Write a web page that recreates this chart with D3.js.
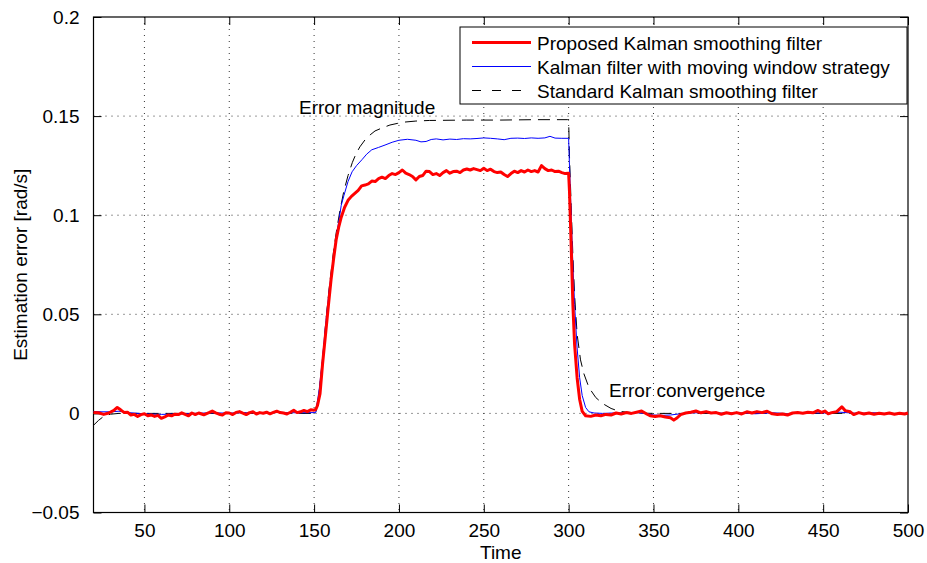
<!DOCTYPE html>
<html>
<head>
<meta charset="utf-8">
<script src="https://cdn.jsdelivr.net/npm/d3@7"></script>
<style>
  body { margin: 0; background: #fff; }
  text { font-family: "Liberation Sans", Arial, sans-serif; fill: #000; }
</style>
</head>
<body>
<div id="chart"></div>
<script>

// --- data: [time, error] ---
let proposedData = [
    [20, 0.0005], [23, 0.0003], [26, -0.0005], [29, 0.0002], [32, 0.0015], [34, 0.003], [36, 0.0018],
    [38, 0.0005], [40, 0.0006], [42, -0.0008], [44, -0.0005], [46, -0.0015], [48, -0.0006], [50, -0.0002],
    [52, -0.0012], [54, -0.0008], [56, -0.0015], [58, -0.001], [60, -0.0025], [62, -0.0018], [64, -0.0008],
    [66, -0.0012], [68, -0.0004], [70, -0.0006], [72, 0.0003], [74, -0.0005], [76, -0.0012], [78, 0.0002],
    [80, -0.0006], [82, 0.0002], [85, -0.0007], [88, 0.0004], [90, 0.0012], [92, 0.0003], [94, -0.0004],
    [96, -0.0008], [98, 0.0003], [100, 0.0002], [102, -0.0006], [104, 0.0005], [106, 0.0009], [108, 0.0001],
    [110, -0.0006], [112, 0.0004], [114, 0.0008], [116, -0.0003], [118, 0.0004], [120, 0.0001], [122, 0.0006],
    [124, -0.0002], [126, 0.0005], [128, 0.0011], [130, 0.0004], [132, 0.0002], [134, -0.0003], [136, 0.0006],
    [138, 0.0016], [140, 0.0004], [142, 0.0008], [144, 0.0015], [146, 0.0009], [148, 0.0018], [150, 0.0016],
    [151, 0.002], [152, 0.004], [153.5, 0.01], [155, 0.025], [157, 0.042], [158.5, 0.055], [160, 0.0675],
    [161.5, 0.078], [163, 0.0876], [164.5, 0.094], [166, 0.099], [168, 0.104], [170, 0.1075], [172, 0.1095],
    [174, 0.111], [176, 0.1125], [178, 0.1148], [180, 0.1152], [182, 0.1158], [184, 0.1172], [186, 0.117],
    [188, 0.1185], [190, 0.1192], [192, 0.1185], [194, 0.12], [196, 0.121], [198, 0.1205], [200, 0.1215],
    [202, 0.1228], [204, 0.1212], [206, 0.1205], [208, 0.1195], [210, 0.1178], [212, 0.1195], [214, 0.12],
    [216, 0.1222], [218, 0.122], [220, 0.1205], [222, 0.121], [224, 0.12], [226, 0.1215], [228, 0.1225],
    [230, 0.1212], [232, 0.122], [234, 0.1222], [236, 0.1215], [238, 0.1228], [240, 0.1233], [242, 0.1228],
    [244, 0.1235], [246, 0.123], [248, 0.1225], [250, 0.1237], [252, 0.1225], [254, 0.1232], [256, 0.122],
    [258, 0.1215], [260, 0.1218], [262, 0.1205], [264, 0.1195], [266, 0.121], [268, 0.1222], [270, 0.1215],
    [272, 0.1225], [274, 0.1218], [276, 0.1228], [278, 0.122], [280, 0.1225], [282, 0.1218], [284, 0.125],
    [286, 0.1235], [288, 0.1225], [290, 0.1228], [292, 0.122], [294, 0.1222], [296, 0.1215], [298, 0.121],
    [300, 0.1212], [300.5, 0.112], [301.5, 0.085], [302.5, 0.055], [303.5, 0.035], [305, 0.018],
    [306.5, 0.007], [308, 0.001], [310, -0.0012], [313, -0.0015], [316, -0.0008], [319, -0.0012],
    [322, -0.0005], [325, -0.0008], [328, 0.0002], [331, -0.0003], [334, 0.0004], [337, 0], [340, 0.0006],
    [343, 0.0012], [346, -0.0003], [348, -0.0012], [351, -0.0016], [354, -0.0012], [357, -0.0018],
    [360, -0.0022], [362, -0.0034], [364, -0.0022], [366, -0.0006], [369, 0.0002], [372, 0.0006],
    [375, 0.0012], [378, 0.0003], [381, 0.0009], [384, 0.0002], [387, 0.0004], [390, -0.0004], [393, 0.0003],
    [396, -0.0002], [399, 0.0004], [402, -0.0003], [405, 0.0008], [408, 0.0002], [411, 0.0009], [414, 0.0004],
    [417, 0.0011], [420, -0.0002], [423, -0.0006], [426, -0.0003], [429, -0.0008], [432, 0.0002], [435, 0.0004],
    [438, 0.0001], [441, 0.0006], [444, 0.0003], [447, 0.0015], [449, 0.0005], [451, 0.0012], [453, -0.0002],
    [455, 0.0004], [458, 0.0009], [461, 0.0033], [463, 0.0014], [466, 0.0008], [468, -0.0006], [471, 0.0004],
    [474, -0.0003], [477, 0.0002], [480, -0.0004], [483, 0.0001], [486, -0.0003], [489, 0.0002],
    [492, -0.0004], [495, 0.0001], [498, -0.0003], [500, 0.0002]
];

let movingWindowData = [
    [20, 0.001], [25, 0.0008], [30, 0.0008], [35, 0.0011], [40, 0.0004], [45, 0.0001], [50, -0.0002],
    [55, -0.0004], [60, -0.0005], [65, -0.0004], [70, -0.0003], [80, 0], [90, 0.0003], [100, 0.0001],
    [110, 0.0004], [120, 0.0002], [130, 0.0005], [140, 0.0003], [150, 0.0004], [151, 0.0005],
    [153, 0.012], [155, 0.028], [157, 0.047], [159, 0.063], [161.2, 0.0775], [163, 0.089], [164.7, 0.0977],
    [166, 0.105], [167.6, 0.11], [170, 0.117], [172.4, 0.1219], [175, 0.125], [178.2, 0.128], [181, 0.1308],
    [184, 0.133], [188, 0.1342], [191.8, 0.1354], [196, 0.1368], [200, 0.1378], [205, 0.1383], [210, 0.1378],
    [213, 0.137], [216, 0.1372], [219, 0.1382], [222, 0.1385], [226, 0.138], [230, 0.1384], [234, 0.1382],
    [238, 0.1386], [242, 0.1385], [246, 0.1387], [250, 0.139], [254, 0.1388], [258, 0.1385], [262, 0.1381],
    [266, 0.1388], [270, 0.1389], [274, 0.1387], [278, 0.139], [282, 0.1388], [286, 0.139], [289, 0.1398],
    [292, 0.1389], [296, 0.1388], [300, 0.1388], [300.5, 0.125], [301.5, 0.1], [302.5, 0.075],
    [303.5, 0.055], [305, 0.033], [306.5, 0.018], [308, 0.009], [310, 0.003], [312, 0.0008], [315, 0.0002],
    [320, 0], [330, 0.0003], [340, 0.0004], [345, 0], [350, -0.0008], [355, -0.001], [360, -0.0008],
    [365, -0.0003], [370, 0.0002], [380, 0.0004], [390, 0.0001], [400, 0.0003], [410, -0.0002],
    [420, 0.0003], [430, -0.0002], [440, 0.0004], [450, 0.0002], [460, 0.0006], [470, 0], [480, 0.0003],
    [490, -0.0002], [500, 0.0001]
];

let standardData = [
    [20, -0.006], [23, -0.0035], [26, -0.0015], [30, -0.0004], [35, 0], [151, 0], [153, 0.011],
    [155, 0.027], [157, 0.047], [159, 0.064], [161.2, 0.08], [163, 0.091], [165.3, 0.1027], [167.5, 0.112],
    [170, 0.12], [172.5, 0.1265], [174.7, 0.131], [177, 0.1345], [180, 0.138], [183, 0.1405], [185.9, 0.1425],
    [190, 0.144], [194.7, 0.1455], [199, 0.1463], [203.5, 0.147], [210, 0.1475], [218, 0.1478], [240, 0.148],
    [260, 0.148], [280, 0.1482], [299.5, 0.1482], [300, 0.148], [300.5, 0.13], [301.5, 0.105], [302.5, 0.08],
    [303.5, 0.06], [305, 0.04], [307, 0.027], [309, 0.02], [312, 0.013], [316, 0.008], [320, 0.005],
    [325, 0.0025], [330, 0.001], [340, 0.0002], [350, 0], [500, 0]
];

let seriesNames = ["Proposed Kalman smoothing filter", "Kalman filter with moving window strategy", "Standard Kalman smoothing filter"];
let xTicks = [50, 100, 150, 200, 250, 300, 350, 400, 450, 500];
let yTicks = [-0.05, 0, 0.05, 0.1, 0.15, 0.2];
let yTickLabels = ["\u22120.05", "0", "0.05", "0.1", "0.15", "0.2"];

// --- layout ---
let margin = {top: 17, right: 19, bottom: 50.5, left: 93.5};
let width = 927 - margin.left - margin.right;
let height = 563 - margin.top - margin.bottom;
let fontSize = "19px";

let svg = d3.select("#chart").append("svg")
    .attr("width", 927)
    .attr("height", 563)
    .append("g")
    .attr("transform", `translate(${margin.left}, ${margin.top})`);

let x = d3.scaleLinear().domain([20, 500]).range([0, width]);
let y = d3.scaleLinear().domain([-0.05, 0.2]).range([height, 0]);

// grid (dotted)
svg.append("g").selectAll("line")
    .data(xTicks.filter(d => d < 500))
    .enter().append("line")
    .attr("x1", d => x(d)).attr("x2", d => x(d))
    .attr("y1", 0).attr("y2", height)
    .attr("stroke", "#333").attr("stroke-width", 1)
    .attr("stroke-dasharray", "1,5");

svg.append("g").selectAll("line")
    .data(yTicks.filter(d => d > -0.05 && d < 0.2))
    .enter().append("line")
    .attr("x1", 0).attr("x2", width)
    .attr("y1", d => y(d)).attr("y2", d => y(d))
    .attr("stroke", "#333").attr("stroke-width", 1)
    .attr("stroke-dasharray", "1,5");

// axes, ticks pointing inward on all four sides
let tickLen = 8;
let xAxis = d3.axisBottom(x).tickValues(xTicks).tickSizeInner(-tickLen).tickSizeOuter(0).tickPadding(11);
let xAxisTop = d3.axisTop(x).tickValues(xTicks).tickSizeInner(-tickLen).tickSizeOuter(0).tickFormat("");
let yAxis = d3.axisLeft(y).tickValues(yTicks).tickSizeInner(-tickLen).tickSizeOuter(0).tickPadding(14)
    .tickFormat((d, i) => yTickLabels[i]);
let yAxisRight = d3.axisRight(y).tickValues(yTicks).tickSizeInner(-tickLen).tickSizeOuter(0).tickFormat("");

function styleAxis(g) {
    g.select(".domain").remove();
    g.selectAll(".tick line").attr("stroke", "#000").attr("stroke-width", 1);
    g.selectAll(".tick text").style("font-size", fontSize).attr("fill", "#000");
}

svg.append("g").attr("transform", `translate(0, ${height})`).call(xAxis).call(styleAxis);
svg.append("g").call(xAxisTop).call(styleAxis);
svg.append("g").call(yAxis).call(styleAxis);
svg.append("g").attr("transform", `translate(${width}, 0)`).call(yAxisRight).call(styleAxis);

// plot box
svg.append("rect")
    .attr("width", width).attr("height", height)
    .attr("fill", "none").attr("stroke", "#000").attr("stroke-width", 1.2);

// lines
let line = d3.line().x(d => x(d[0])).y(d => y(d[1]));

svg.append("path").datum(standardData)
    .attr("d", line).attr("fill", "none")
    .attr("stroke", "#000").attr("stroke-width", 1).attr("stroke-dasharray", "12,7");

svg.append("path").datum(movingWindowData)
    .attr("d", line).attr("fill", "none")
    .attr("stroke", "#0000ff").attr("stroke-width", 1);

svg.append("path").datum(proposedData)
    .attr("d", line).attr("fill", "none")
    .attr("stroke", "#ff0000").attr("stroke-width", 3).attr("stroke-linejoin", "round");

// annotations
svg.append("text").attr("x", 299 - margin.left).attr("y", 114 - margin.top)
    .style("font-size", fontSize).text("Error magnitude");
svg.append("text").attr("x", 609 - margin.left).attr("y", 397 - margin.top)
    .style("font-size", fontSize).text("Error convergence");

// axis titles
svg.append("text")
    .attr("x", width / 2).attr("y", height + 46.5)
    .attr("text-anchor", "middle").style("font-size", fontSize)
    .text("Time");

svg.append("text")
    .attr("transform", `translate(${-67}, ${height / 2}) rotate(-90)`)
    .attr("text-anchor", "middle").style("font-size", fontSize)
    .text("Estimation error [rad/s]");

// legend
let legend = svg.append("g").attr("transform", `translate(${460 - margin.left}, ${27 - margin.top})`);
legend.append("rect")
    .attr("width", 447).attr("height", 77)
    .attr("fill", "#fff").attr("stroke", "#000").attr("stroke-width", 1);

let legendStyles = [
    {color: "#ff0000", w: 3, dash: null},
    {color: "#0000ff", w: 1, dash: null},
    {color: "#000", w: 1, dash: "9,11"}
];

seriesNames.forEach((name, i) => {
    let cy = 15.5 + i * 24;
    legend.append("line")
        .attr("x1", 12).attr("x2", 71)
        .attr("y1", cy).attr("y2", cy)
        .attr("stroke", legendStyles[i].color)
        .attr("stroke-width", legendStyles[i].w)
        .attr("stroke-dasharray", legendStyles[i].dash);
    legend.append("text")
        .attr("x", 77).attr("y", cy + 7)
        .style("font-size", fontSize)
        .text(name);
});

</script>
</body>
</html>
